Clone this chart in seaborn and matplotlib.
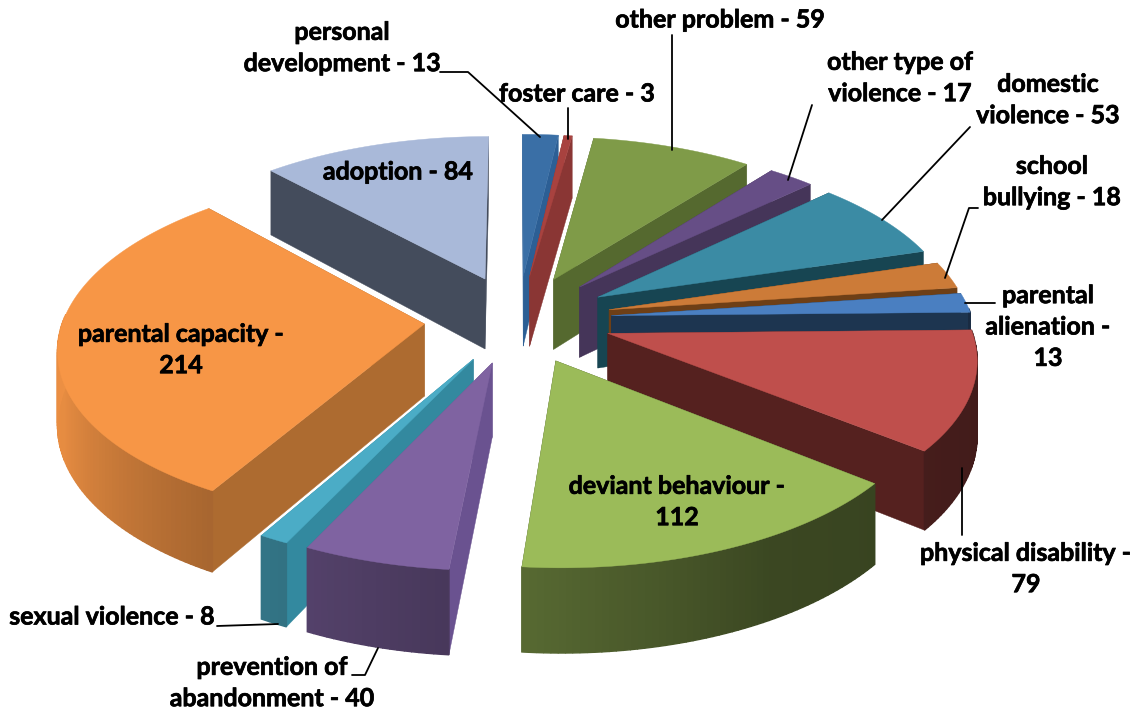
import numpy as np
import pandas as pd
import seaborn as sns
import matplotlib
matplotlib.use("Agg")
import matplotlib.pyplot as plt
import matplotlib.patheffects as pe
from matplotlib.colors import to_rgb

# data, clockwise from 12 o'clock
categories = ["personal development", "foster care", "other problem", "other type of violence",
              "domestic violence", "school bullying", "parental alienation", "physical disability",
              "deviant behaviour", "prevention of abandonment", "sexual violence",
              "parental capacity", "adoption"]
values = [13, 3, 59, 17, 53, 18, 13, 79, 112, 40, 8, 214, 84]
top_colors = ["#3a6fa6", "#a8423f", "#7f9b48", "#664e86", "#3b8ba4", "#cc7b38", "#4a7fc1",
              "#bf4f4c", "#9bbb59", "#7f63a1", "#4bacc6", "#f79646", "#a9b9d9"]
radial_colors = ["#2c5f95", "#8a3634", "#55692f", "#453559", "#174552", "#6e3f16", "#1d3550",
                 "#55211f", "#43532a", "#6a5290", "#33899f", "#ad6b30", "#444c5c"]

CX, CY = 518, 319
R = 361
TILT = 0.47
PERSP = 0.125
EXPLODE = 0.26
DEPTH = 72

df = pd.DataFrame({"cat": categories, "val": values})
df["end"] = df["val"].cumsum() / df["val"].sum() * 2 * np.pi
df["start"] = df["end"] - df["val"] / df["val"].sum() * 2 * np.pi
df["mid"] = (df["start"] + df["end"]) / 2


def project(x, y, z=0.0):
    # x,y in the pie plane (y away from viewer), z going down
    f = 1 / (1 + PERSP * y)
    return CX + R * x * f, CY - R * y * f * TILT + DEPTH * z * f


def shade(col, k):
    return tuple(min(1, c * k) for c in to_rgb(col))


sns.set_theme(style="white")
plt.rcParams["font.family"] = ["Lato", "DejaVu Sans"]

fig, ax = plt.subplots(figsize=(11.44, 7.13), dpi=100)
fig.subplots_adjust(0, 0, 1, 1)
ax.set_xlim(0, 1144)
ax.set_ylim(713, 0)
ax.axis("off")

# back slices first
order = list(df.assign(back=np.cos(df["mid"])).sort_values("back", ascending=False).index)

for i in order:
    row = df.loc[i]
    z0 = 1 + order.index(i) * 3
    ox = EXPLODE * np.sin(row["mid"])
    oy = EXPLODE * np.cos(row["mid"])
    th = np.linspace(row["start"], row["end"], max(3, int((row["end"] - row["start"]) * 60)))
    rx = ox + np.sin(th)
    ry = oy + np.cos(th)

    # radial walls
    for a in (row["start"], row["end"]):
        ex, ey = ox + np.sin(a), oy + np.cos(a)
        p = [project(ox, oy), project(ex, ey), project(ex, ey, 1), project(ox, oy, 1)]
        ax.fill(*zip(*p), color=radial_colors[i], lw=0.3, zorder=z0)

    # outer wall, cut in strips so it can darken round the rim
    for j in range(len(th) - 1):
        t = (th[j] + th[j + 1]) / 2
        if np.cos(t) > 0.05:
            continue
        k = np.interp(np.degrees(t), [100, 150, 185, 210, 250, 290], [0.34, 0.38, 0.56, 0.68, 0.93, 0.98])
        p = [project(rx[j], ry[j]), project(rx[j + 1], ry[j + 1]),
             project(rx[j + 1], ry[j + 1], 1), project(rx[j], ry[j], 1)]
        ax.fill(*zip(*p), color=shade(top_colors[i], k), lw=1.0, zorder=z0 + 1)

    # top face
    px, py = project(np.r_[ox, rx], np.r_[oy, ry])
    ax.fill(px, py, color=top_colors[i], lw=0.3, zorder=z0 + 2)

# labels
labels = [
    ("personal\ndevelopment - 13", 342, 48),
    ("foster care - 3", 577, 94),
    ("other problem - 59", 720, 20),
    ("other type of\nviolence - 17", 900, 78),
    ("domestic\nviolence - 53", 1048, 100),
    ("school\nbullying - 18", 1052, 182),
    ("parental\nalienation -\n13", 1048, 327),
    ("physical disability -\n79", 1026, 569),
    ("deviant behaviour -\n112", 677, 502),
    ("parental capacity -\n214", 181, 350),
    ("adoption - 84", 398, 172),
    ("sexual violence - 8", 112, 617),
    ("prevention of\nabandonment - 40", 272, 683),
]
for txt, x, y in labels:
    ax.text(x, y, txt, ha="center", va="center", fontsize=18, fontweight="bold",
            color="black", linespacing=1.44, zorder=100,
            path_effects=[pe.withStroke(linewidth=0.5, foreground="black")])

leaders = [
    ([440, 468, 540], [72, 72, 137]),
    ([568, 568], [108, 139]),
    ([672, 672], [35, 150]),
    ([812, 788], [105, 180]),
    ([970, 882], [127, 220]),
    ([978, 969, 945], [208, 208, 278]),
    ([995, 965], [303, 303]),
    ([962, 962], [468, 535]),
    ([217, 278], [626, 624]),
    ([352, 365, 378], [675, 675, 648]),
]
for lx, ly in leaders:
    ax.plot(lx, ly, color="black", lw=1.3, zorder=99)

fig.savefig("out.png", dpi=100)
